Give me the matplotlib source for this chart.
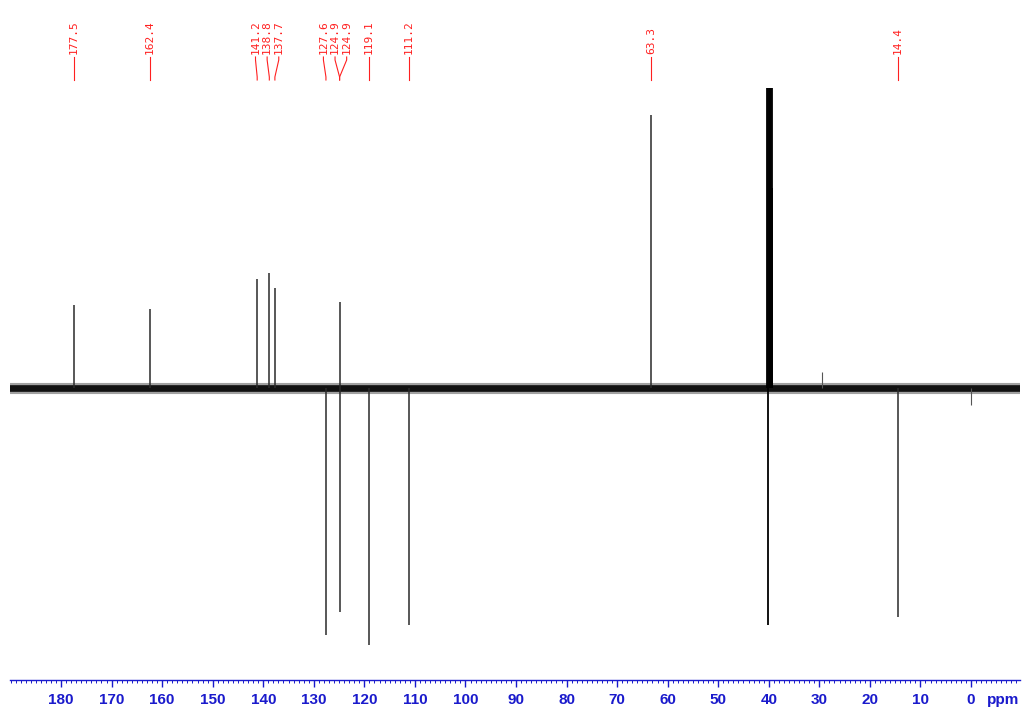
import numpy as np
import matplotlib
matplotlib.use('Agg')
import matplotlib.pyplot as plt
import matplotlib.transforms as mtransforms
from matplotlib.ticker import MultipleLocator

# Peak list (ppm) and intensity (baseline = 0, positive = up)
peak_ppm = [177.5, 162.4, 141.2, 138.8, 137.7, 127.6, 124.9, 124.9, 119.1, 111.2, 63.3, 14.4]
peak_int = [83, 79, 109, 115, 100, -247, 86, -224, -257, -237, 273, -229]

# unlabelled signals: DMSO-d6 multiplet and small impurities
solvent_ppm = [40.3, 40.15, 40.0, 39.85, 39.7, 39.55, 39.4, 39.3, 40.1]
solvent_int = [320, 320, 320, 320, 320, 320, 320, 200, -237]
minor_ppm = [29.5, 0.0]
minor_int = [16, -17]

# labels written on top (the two 124.9 are separate signals)
label_text = ['177.5', '162.4', '141.2', '138.8', '137.7', '127.6', '124.9',
              '124.9', '119.1', '111.2', '63.3', '14.4']

x_ticks = [180, 170, 160, 150, 140, 130, 120, 110, 100, 90, 80, 70, 60, 50, 40, 30, 20, 10, 0]

blue = '#1a1acc'
red = '#ff2020'

fig = plt.figure(figsize=(10.26, 7.10), dpi=100)
ax = fig.add_axes([10 / 1026, 30 / 710, 1010 / 1026, 592 / 710])

ax.set_xlim(190.1, -9.7)
ax.set_ylim(-292, 300)

# baseline noise band
ax.axhline(0, color='#303030', lw=8, alpha=0.45, zorder=2)
ax.axhline(0, color='#111111', lw=4.8, zorder=2)

ax.vlines(peak_ppm, 0, peak_int, color='#2a2a2a', lw=1.1, zorder=3)
ax.vlines(solvent_ppm, 0, solvent_int, color='#000000', lw=1.3, zorder=3)
ax.vlines(minor_ppm, 0, minor_int, color='#555555', lw=0.8, zorder=3)

# axis styling
for side in ['left', 'right', 'top']:
    ax.spines[side].set_visible(False)
ax.spines['bottom'].set_color(blue)
ax.spines['bottom'].set_linewidth(1.0)
ax.set_yticks([])
ax.set_xticks(x_ticks)
ax.xaxis.set_minor_locator(MultipleLocator(1))
ax.tick_params(axis='x', which='major', direction='out', length=5, width=1.0,
               color=blue, labelcolor=blue, labelsize=11, pad=4)
ax.tick_params(axis='x', which='minor', direction='out', length=2.5, width=0.7, color=blue)
for lbl in ax.get_xticklabels():
    lbl.set_fontweight('bold')
    lbl.set_family('Liberation Sans')
ax.text(-6.3, -0.022, 'ppm', transform=mtransforms.blended_transform_factory(ax.transData, ax.transAxes),
        ha='center', va='top', color=blue, fontsize=11, fontweight='bold', family='Liberation Sans')

# spread the label positions so they do not overlap
spacing = 2.3
groups = [[p] for p in peak_ppm]
merged = True
while merged:
    merged = False
    pos = []
    for g in groups:
        c = np.mean(g)
        n = len(g)
        pos.append([c + spacing * ((n - 1) / 2 - k) for k in range(n)])
    for i in range(len(groups) - 1):
        if pos[i][-1] - pos[i + 1][0] < spacing:
            groups[i] = groups[i] + groups[i + 1]
            del groups[i + 1]
            merged = True
            break
label_pos = [p for g in pos for p in g]

trans = mtransforms.blended_transform_factory(ax.transData, fig.transFigure)
y_text = 1 - 54 / 710
y_top = 1 - 57 / 710
y_mid1 = 1 - 60 / 710
y_mid2 = 1 - 77 / 710
y_bot = 1 - 80 / 710
for txt, lx, px in zip(label_text, label_pos, peak_ppm):
    ax.text(lx, y_text, txt, transform=trans, rotation=90, ha='center', va='bottom',
            color=red, fontsize=8, family='DejaVu Sans Mono', clip_on=False)
    ax.plot([lx, lx, px, px], [y_top, y_mid1, y_mid2, y_bot], transform=trans,
            color=red, lw=0.8, clip_on=False)

fig.savefig('out.png', dpi=100)
